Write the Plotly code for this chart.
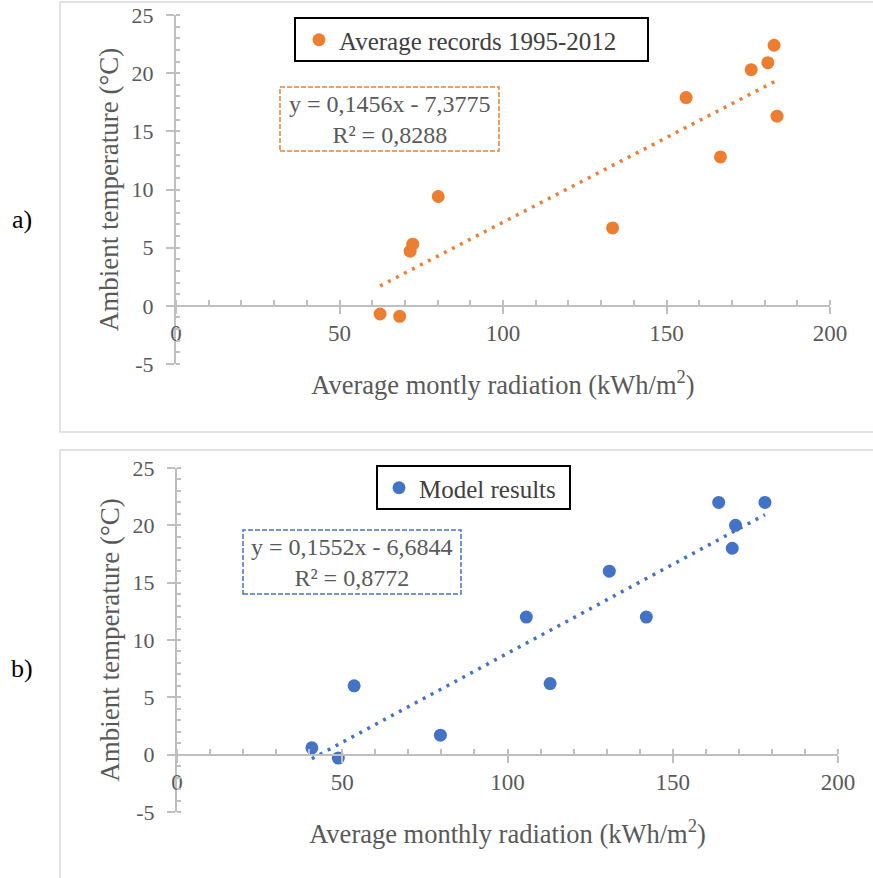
import plotly.graph_objects as go

# ---- data ----
rad_a = [62.4, 68.4, 71.6, 72.4, 80.2, 133.5, 156.0, 166.5, 175.9, 181.0, 182.9, 183.8]
temp_a = [-0.7, -0.9, 4.7, 5.3, 9.4, 6.7, 17.9, 12.8, 20.3, 20.9, 22.4, 16.3]
slope_a, icpt_a, r2_a = 0.1456, -7.3775, 0.8288

rad_b = [40.8, 48.8, 53.6, 79.7, 105.7, 112.9, 130.8, 142.0, 163.9, 168.0, 169.0, 177.9]
temp_b = [0.6, -0.3, 6.0, 1.7, 12.0, 6.2, 16.0, 12.0, 22.0, 18.0, 20.0, 22.0]
slope_b, icpt_b, r2_b = 0.1552, -6.6844, 0.8772

x_tickvals = [0, 50, 100, 150, 200]
x_ticktext = ["0", "50", "100", "150", "200"]
y_tickvals = [-5, 0, 5, 10, 15, 20, 25]
y_ticktext = ["-5", "0", "5", "10", "15", "20", "25"]

name_a = "Average records 1995-2012"
name_b = "Model results"
xtitle_a = "Average montly radiation (kWh/m<sup>2</sup>)"
xtitle_b = "Average monthly radiation (kWh/m<sup>2</sup>)"
ytitle = "Ambient temperature (°C)"
panel_labels = ["a)", "b)"]

ORANGE = "#ED7D31"
BLUE = "#4472C4"
FONT = "Liberation Serif"
W, H = 873, 878

def px(x):
    return x / W

def py(y):
    return 1 - y / H

def fmt(v, d):
    return f"{v:.{d}f}".replace(".", ",")

def eq_text(s, c, r2):
    sign = "-" if c < 0 else "+"
    return f"y = {fmt(s,4)}x {sign} {fmt(abs(c),4)}<br>R² = {fmt(r2,4)}"

fig = go.Figure()

panels = [
    dict(rad=rad_a, temp=temp_a, s=slope_a, c=icpt_a, r2=r2_a, col=ORANGE, name=name_a,
         xt=xtitle_a, xa="x", ya="y", leg="legend",
         xdom=[px(176), px(830)], ytop=15, ybot=364,
         legbox=(295, 18, 648, 61), legpos=(299, 40),
         eqbox=(280, 87, 499, 151), lab_y=220, frame=(60, 2, 432)),
    dict(rad=rad_b, temp=temp_b, s=slope_b, c=icpt_b, r2=r2_b, col=BLUE, name=name_b,
         xt=xtitle_b, xa="x2", ya="y2", leg="legend2",
         xdom=[px(177), px(838)], ytop=468, ybot=812,
         legbox=(377, 466, 570, 509), legpos=(379, 488),
         eqbox=(243, 530, 461, 594), lab_y=668, frame=(60, 450, 900)),
]

shapes = []
annotations = []
for i, p in enumerate(panels):
    fig.add_trace(go.Scatter(
        x=p["rad"], y=p["temp"], mode="markers", name=p["name"],
        marker=dict(color=p["col"], size=13),
        xaxis=p["xa"], yaxis=p["ya"], legend=p["leg"], showlegend=True))
    x0, x1 = min(p["rad"]), max(p["rad"])
    fig.add_trace(go.Scatter(
        x=[x0, x1], y=[p["s"] * x0 + p["c"], p["s"] * x1 + p["c"]],
        mode="lines", line=dict(color=p["col"], width=3.5, dash="3px,6px"),
        xaxis=p["xa"], yaxis=p["ya"], showlegend=False, hoverinfo="skip"))

    ydom = [py(p["ybot"]), py(p["ytop"])]
    zero_pos = ydom[0] + (0 - (-5)) / 30 * (ydom[1] - ydom[0])
    xkey = "xaxis" if i == 0 else "xaxis2"
    ykey = "yaxis" if i == 0 else "yaxis2"
    fig.update_layout(**{
        xkey: dict(domain=p["xdom"], range=[0, 200], anchor="free", position=zero_pos,
                   automargin=False,
                   tickmode="array", tickvals=x_tickvals, ticktext=x_ticktext,
                   showline=True, linecolor="#bfbfbf", linewidth=2,
                   ticks="outside", ticklen=7, tickwidth=2, tickcolor="#bfbfbf",
                   minor=dict(tickmode="linear", tick0=0, dtick=10, ticks="inside", ticklen=5,
                              tickwidth=1.5, tickcolor="#bfbfbf"),
                   showgrid=False, zeroline=False,
                   tickfont=dict(family=FONT, size=23, color="#595959"),
                   title=dict(text=p["xt"], font=dict(family=FONT, size=26.5, color="#595959"), standoff=29)),
        ykey: dict(domain=ydom, range=[-5, 25], anchor=p["xa"], automargin=False,
                   tickmode="array", tickvals=y_tickvals, ticktext=y_ticktext,
                   showline=True, linecolor="#bfbfbf", linewidth=2,
                   ticks="outside", ticklen=8, tickwidth=2, tickcolor="#bfbfbf",
                   minor=dict(tickmode="linear", tick0=0, dtick=1, ticks="inside", ticklen=4,
                              tickwidth=1.5, tickcolor="#bfbfbf"),
                   showgrid=False, zeroline=False, ticklabelstandoff=8,
                   tickfont=dict(family=FONT, size=22, color="#595959"),
                   title=dict(text=ytitle, font=dict(family=FONT, size=27, color="#595959"), standoff=5)),
        p["leg"]: dict(x=px(p["legpos"][0]), y=py(p["legpos"][1]), xanchor="left", yanchor="middle",
                       bgcolor="rgba(0,0,0,0)", borderwidth=0,
                       font=dict(family=FONT, size=25, color="#404040")),
    })
    fx, fy0, fy1 = p["frame"]
    shapes.append(dict(type="rect", xref="paper", yref="paper", x0=px(fx), x1=1.05,
                       y0=py(fy1), y1=py(fy0), line=dict(color="#d9d9d9", width=1.5), layer="below"))
    lx0, ly0, lx1, ly1 = p["legbox"]
    shapes.append(dict(type="rect", xref="paper", yref="paper", x0=px(lx0), x1=px(lx1),
                       y0=py(ly1), y1=py(ly0), line=dict(color="black", width=2)))
    ex0, ey0, ex1, ey1 = p["eqbox"]
    shapes.append(dict(type="rect", xref="paper", yref="paper", x0=px(ex0), x1=px(ex1),
                       y0=py(ey1), y1=py(ey0), line=dict(color=p["col"], width=1.5, dash="5px,2px")))
    annotations.append(dict(xref="paper", yref="paper", x=px((ex0 + ex1) / 2), y=py((ey0 + ey1) / 2),
                            text=eq_text(p["s"], p["c"], p["r2"]), showarrow=False,
                            xanchor="center", yanchor="middle", align="center",
                            font=dict(family=FONT, size=24, color="#595959")))
    annotations.append(dict(xref="paper", yref="paper", x=px(22), y=py(p["lab_y"]),
                            text=panel_labels[i], showarrow=False, xanchor="center", yanchor="middle",
                            font=dict(family=FONT, size=26, color="black")))

fig.update_layout(width=W, height=H, margin=dict(l=0, r=0, t=0, b=0, autoexpand=False),
                  paper_bgcolor="white", plot_bgcolor="white",
                  shapes=shapes, annotations=annotations)

post = ("document.body.style.margin='0px';document.body.style.overflow='hidden';")

fig.write_html("out.html", config={"displayModeBar": False}, post_script=post)
